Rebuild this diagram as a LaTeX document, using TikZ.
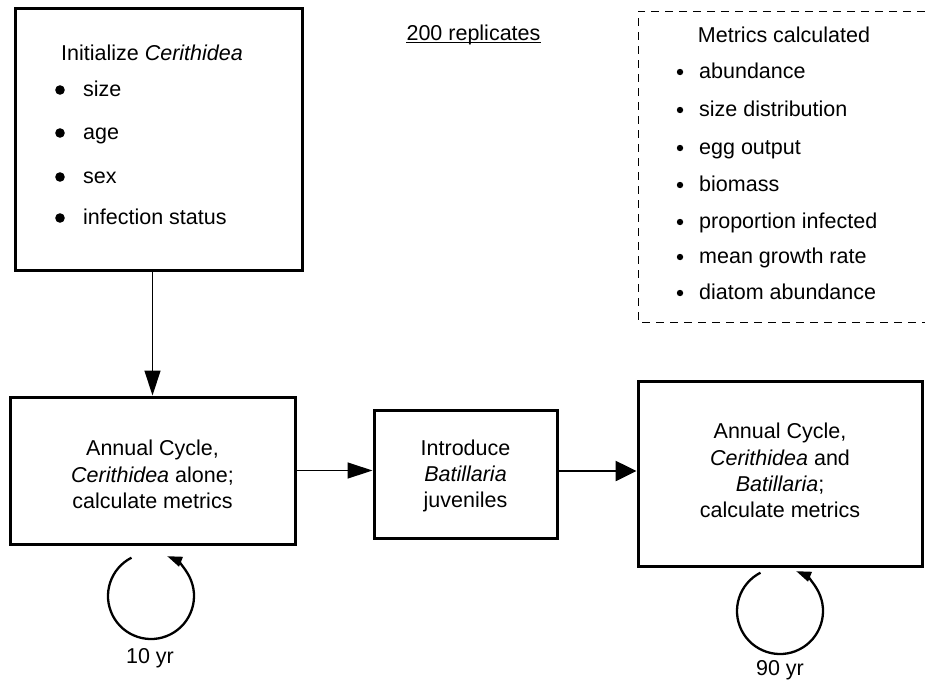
\documentclass[tikz,border=0pt]{standalone}
\usepackage{fontspec}
\setmainfont{Liberation Sans}
\usetikzlibrary{arrows.meta}
\begin{document}
\begin{tikzpicture}[x=1pt,y=-1pt,
  every node/.style={font=\fontsize{21.5}{26.3}\selectfont},
  box/.style={draw, line width=3pt, inner sep=0pt},
  boxtext/.style={align=center, inner sep=0pt},
  thinflow/.style={line width=1.3pt, -{Triangle[length=25pt,width=16pt]}},
  thickflow/.style={line width=2.6pt, -{Triangle[length=21pt,width=20pt]}},
  loopline/.style={line width=2.3pt, -{Triangle[length=15pt,width=10pt]}},
  item/.style={anchor=base west, inner sep=0pt},
  bigdot/.style={fill=black},
  dashbox/.style={line width=1pt, dash pattern=on 8pt off 6pt}
]
\useasboundingbox (0,0) rectangle (925,681);

% Initialize box
\node[box, minimum width=287pt, minimum height=262pt] (init) at (158.5,139) {};
\node[anchor=base, inner sep=0pt] (inittitle) at (152,60) {Initialize \textit{Cerithidea}};
\fill[bigdot] (60,90) circle (4.8pt);
\fill[bigdot] (60,133) circle (4.8pt);
\fill[bigdot] (60,177) circle (4.8pt);
\fill[bigdot] (60,218) circle (4.8pt);
\node[item] (i1) at (83,96) {size};
\node[item] (i2) at (83,139) {age};
\node[item] (i3) at (83,183) {sex};
\node[item] (i4) at (83,224) {infection status};

% 200 replicates
\node[anchor=base, inner sep=0pt] (rep) at (473.5,40) {200 replicates};
\draw[line width=1pt] ([yshift=-2.5pt]rep.base west) -- ([yshift=-2.5pt]rep.base east);

% Metrics box (open on the right)
\draw[dashbox] (925,11) -- (638,11) -- (638,322) -- (925,322);
\node[anchor=base, inner sep=0pt] (mtitle) at (784,42) {Metrics calculated};
\foreach \yy/\txt/\nm in {72/abundance/m1, 110/size distribution/m2, 148/egg output/m3, 185/biomass/m4, 222/proportion infected/m5, 257/mean growth rate/m6, 293/diatom abundance/m7}{
  \fill[bigdot] (680,\yy) circle (3.2pt);
  \node[item] (\nm) at (699,\yy+6) {\txt};
}

% Lower boxes
\node[box, minimum width=285pt, minimum height=147pt] (cyc1) at (152.5,470.5) {};
\node[boxtext] (cyc1t) at (152.5,474.5) {Annual Cycle,\\ \textit{Cerithidea} alone;\\ calculate metrics};
\node[box, minimum width=183pt, minimum height=128pt] (intro) at (465.5,474) {};
\node[boxtext] (introt) at (465.5,476) {Introduce\\ \textit{Batillaria}\\ juveniles};
\node[box, minimum width=284pt, minimum height=185pt] (cyc2) at (780,473.5) {};
\node[boxtext] (cyc2t) at (780,470.5) {Annual Cycle,\\ \textit{Cerithidea} and\\ \textit{Batillaria};\\ calculate metrics};

% Connectors
\draw[thinflow] (cyc1.north |- init.south) -- (cyc1.north);
\draw[thinflow] (cyc1.east) -- (cyc1.east -| intro.west);
\draw[thickflow] (intro.east |- 0,471) -- (cyc2.west |- 0,471);

% Loops
\coordinate (loopA) at (151,596);
\coordinate (loopB) at (780,611);
\draw[loopline] ([shift={(243:43)}]loopA) arc[start angle=243, end angle=-68, radius=43];
\draw[loopline] ([shift={(243:43)}]loopB) arc[start angle=243, end angle=-68, radius=43];
\node (lA) at (150,658) {10 yr};
\node (lB) at (780,670) {90 yr};
\end{tikzpicture}
\end{document}
